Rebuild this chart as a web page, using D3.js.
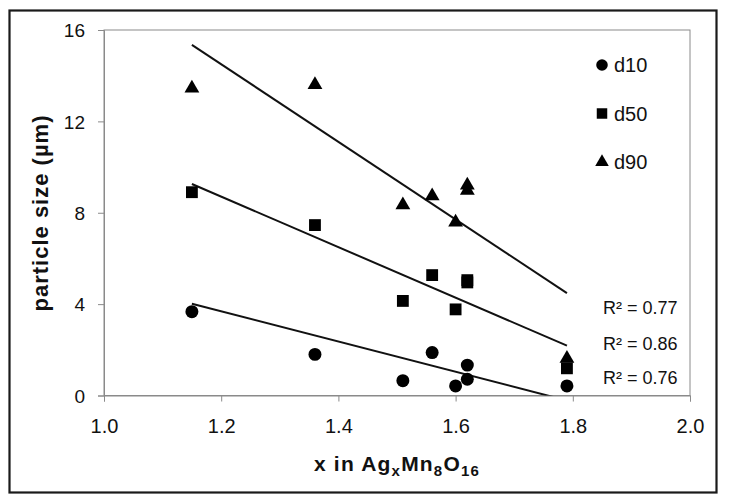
<!DOCTYPE html>
<html><head><meta charset="utf-8">
<script src="https://cdn.jsdelivr.net/npm/d3@7"></script>
<style>
html,body{margin:0;padding:0;background:#fff;}
text{font-family:"Liberation Sans",Arial,sans-serif;fill:#111;}
</style></head>
<body><svg id="c" width="729" height="504"></svg>
<script>
// ---- data ----
const xValues   = [1.15, 1.36, 1.51, 1.56, 1.60, 1.62, 1.62, 1.79];
const d10Values = [3.67, 1.80, 0.65, 1.88, 0.42, 1.33, 0.71, 0.42];
const d50Values = [8.90, 7.46, 4.14, 5.27, 3.77, 5.05, 4.95, 1.19];
const d90Values = [13.45, 13.60, 8.34, 8.73, 7.58, 9.20, 8.97, 1.62];
const seriesNames = ["d10", "d50", "d90"];
// trendline end values at x = 1.15 and x = 1.79
const trendX   = [1.15, 1.79];
const trendD10 = [4.02, -0.22];
const trendD50 = [9.26, 2.18];
const trendD90 = [15.35, 4.48];
const r2Labels = ["R² = 0.77", "R² = 0.86", "R² = 0.76"];
const xTicks = [1.0, 1.2, 1.4, 1.6, 1.8, 2.0];
const yTicks = [0, 4, 8, 12, 16];

const svg = d3.select("#c");
const L = 104, R = 690, T = 30, B = 395.5;
const x = d3.scaleLinear().domain([1, 2]).range([L, R]);
const y = d3.scaleLinear().domain([0, 16]).range([B, T]);

// outer frame
svg.append("rect").attr("x", 9.5).attr("y", 10.5).attr("width", 707).attr("height", 482)
  .attr("fill", "none").attr("stroke", "#1a1a1a").attr("stroke-width", 2.2);

// plot border
svg.append("rect").attr("x", L).attr("y", T).attr("width", R - L).attr("height", B - T)
  .attr("fill", "none").attr("stroke", "#8a8a8a").attr("stroke-width", 1);

// axes
const xAxis = d3.axisBottom(x).tickValues(xTicks).tickFormat(d3.format(".1f")).tickSizeOuter(0).tickSize(6).tickPadding(17);
const yAxis = d3.axisLeft(y).tickValues(yTicks).tickFormat(d3.format("d")).tickSizeOuter(0).tickSize(6).tickPadding(13);
const gx = svg.append("g").attr("transform", `translate(0,${B})`).call(xAxis);
const gy = svg.append("g").attr("transform", `translate(${L},0)`).call(yAxis);
[gx, gy].forEach(g => {
  g.select(".domain").attr("stroke", "#8a8a8a");
  g.selectAll(".tick line").attr("stroke", "#8a8a8a");
  g.selectAll(".tick text").attr("fill", "#111")
    .attr("font-family", "'Liberation Sans', Arial, sans-serif");
});
gx.selectAll(".tick text").attr("font-size", 20);
gy.selectAll(".tick text").attr("font-size", 19).attr("dy", "0.36em");

// trendlines (clipped to plot area)
svg.append("clipPath").attr("id", "clip").append("rect")
  .attr("x", L).attr("y", T).attr("width", R - L).attr("height", B - T);
const trends = [trendD10, trendD50, trendD90];
const line = d3.line().x(d => x(d[0])).y(d => y(d[1]));
svg.append("g").attr("clip-path", "url(#clip)").selectAll("path").data(trends).join("path")
  .attr("d", t => line(trendX.map((xx, i) => [xx, t[i]])))
  .attr("fill", "none").attr("stroke", "#111").attr("stroke-width", 2);

// markers
const symbols = [d3.symbol().type(d3.symbolCircle).size(132),
                 d3.symbol().type(d3.symbolSquare).size(140),
                 d3.symbol().type(d3.symbolTriangle).size(95)];
const series = [d10Values, d50Values, d90Values];
series.forEach((vals, si) => {
  svg.append("g").selectAll("path").data(vals).join("path")
    .attr("d", symbols[si]())
    .attr("transform", (v, i) => `translate(${x(xValues[i])},${y(v)})`)
    .attr("fill", "#000");
});

// legend
const legY = [65, 113.5, 162];
const legSym = [d3.symbol().type(d3.symbolCircle).size(105),
                d3.symbol().type(d3.symbolSquare).size(110),
                d3.symbol().type(d3.symbolTriangle).size(80)];
seriesNames.forEach((n, i) => {
  svg.append("path").attr("d", legSym[i]()).attr("transform", `translate(602,${legY[i]})`).attr("fill", "#000");
  svg.append("text").attr("x", 614).attr("y", legY[i]).attr("dy", "0.36em")
    .attr("font-size", 20).text(n);
});

// R² labels
const r2Y = [308, 343.5, 378];
r2Labels.forEach((t, i) => {
  svg.append("text").attr("x", 603).attr("y", r2Y[i]).attr("dy", "0.36em")
    .attr("font-size", 18).text(t);
});

// axis titles
const xt = svg.append("text").attr("x", 397).attr("y", 471).attr("text-anchor", "middle")
  .attr("font-size", 21).attr("font-weight", "bold").attr("letter-spacing", 1.2);
xt.append("tspan").text("x in Ag");
xt.append("tspan").attr("font-size", 15).attr("dy", 5).text("x");
xt.append("tspan").attr("dy", -5).text("Mn");
xt.append("tspan").attr("font-size", 15).attr("dy", 5).text("8");
xt.append("tspan").attr("dy", -5).text("O");
xt.append("tspan").attr("font-size", 15).attr("dy", 5).text("16");

svg.append("text").attr("transform", "translate(48,213) rotate(-90)")
  .attr("text-anchor", "middle").attr("font-size", 22).attr("font-weight", "bold")
  .attr("letter-spacing", 1)
  .text("particle size (µm)");
</script>
</body></html>
